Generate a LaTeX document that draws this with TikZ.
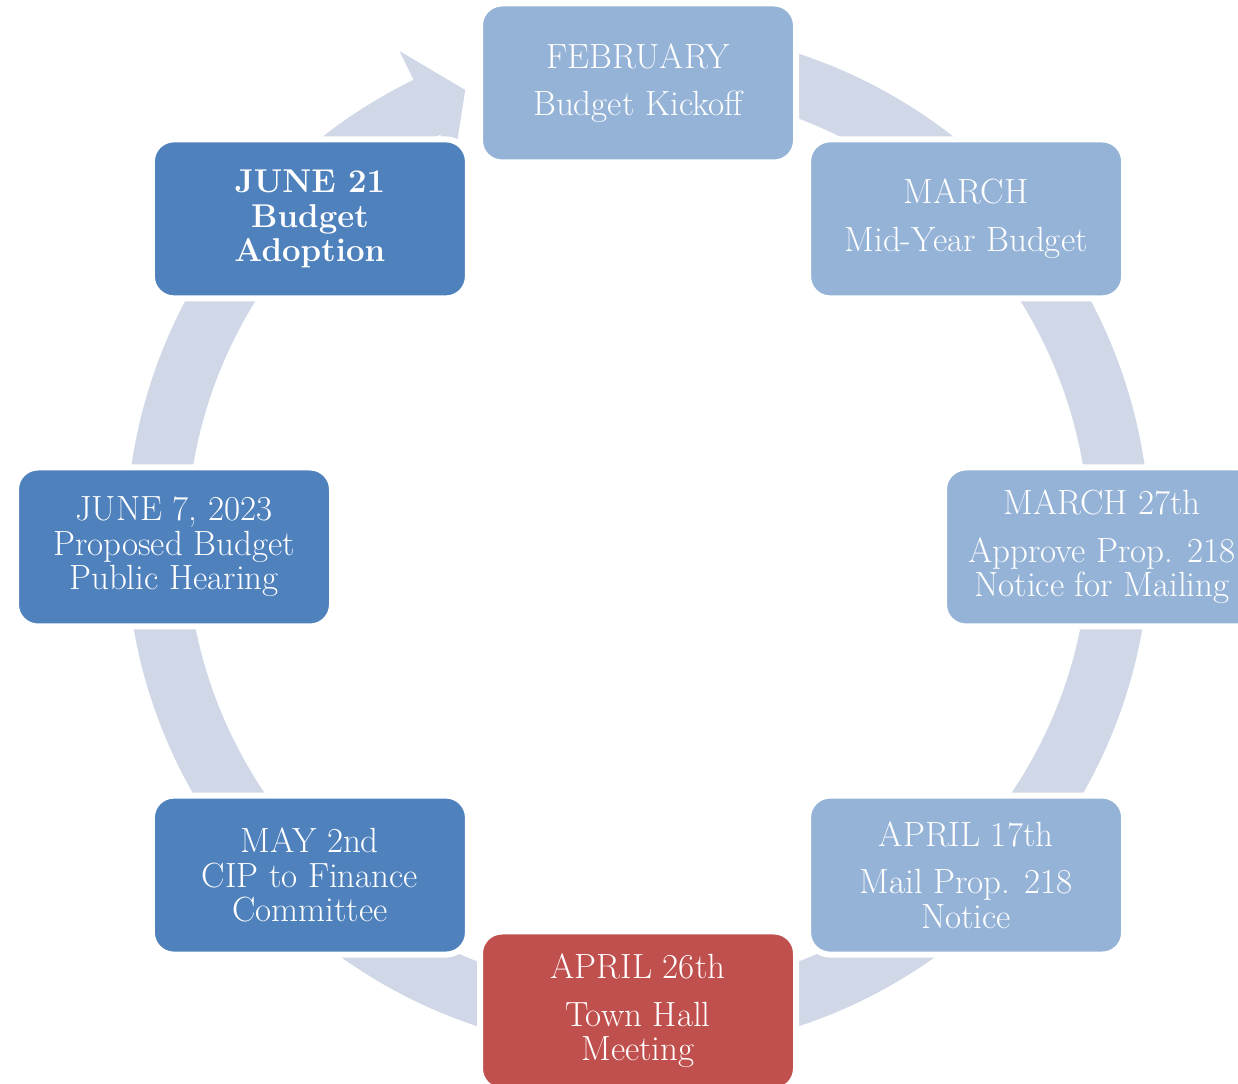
\documentclass[tikz,border=0pt]{standalone}
\definecolor{ringc}{HTML}{D0D8E8}
\definecolor{lightb}{HTML}{95B3D7}
\definecolor{darkb}{HTML}{4F81BD}
\definecolor{redb}{HTML}{C0504D}
\begin{document}
\begin{tikzpicture}[x=1pt,y=1pt,
  stepbox/.style={draw=white, line width=6pt, rounded corners=22pt,
    minimum width=316pt, minimum height=159pt, inner sep=0pt,
    align=center, text=white, font=\fontsize{35}{34.5}\selectfont},
  lightbox/.style={stepbox, fill=lightb},
  darkbox/.style={stepbox, fill=darkb},
  redbox/.style={stepbox, fill=redb}]
\useasboundingbox (0,0) rectangle (1238,1083);
\clip (0,0) rectangle (1238,1083);
% ring with arrow head
\begin{scope}[shift={(638,543)}]
\fill[ringc] (90:512) arc[start angle=90,end angle=-244,radius=512]
  -- (116:544) -- (111:482) -- (116:420) -- (116:451)
  arc[start angle=-244,end angle=90,radius=451] -- cycle;
\end{scope}
\coordinate (C) at (638,536);
\node[lightbox] (feb) at ([shift={(C)}]90:464) {FEBRUARY\\[13pt]Budget Kickoff};
\node[lightbox] (mar) at ([shift={(C)}]45:464) {MARCH\\[13pt]Mid-Year Budget};
\node[lightbox] (mar27) at ([shift={(C)}]0:464) {MARCH 27th\\[13pt]Approve Prop. 218\\Notice for Mailing};
\node[lightbox] (apr17) at ([shift={(C)}]-45:464) {APRIL 17th\\[13pt]Mail Prop. 218\\Notice};
\node[redbox] (apr26) at ([shift={(C)}]-90:464) {APRIL 26th\\[13pt]Town Hall\\Meeting};
\node[darkbox] (may2) at ([shift={(C)}]-135:464) {MAY 2nd\\CIP to Finance\\Committee};
\node[darkbox] (jun7) at ([shift={(C)}]180:464) {JUNE 7, 2023\\Proposed Budget\\Public Hearing};
\node[darkbox, font=\fontsize{33}{34.5}\selectfont\bfseries] (jun21) at ([shift={(C)}]135:464) {JUNE 21\\Budget\\Adoption};
\end{tikzpicture}
\end{document}
